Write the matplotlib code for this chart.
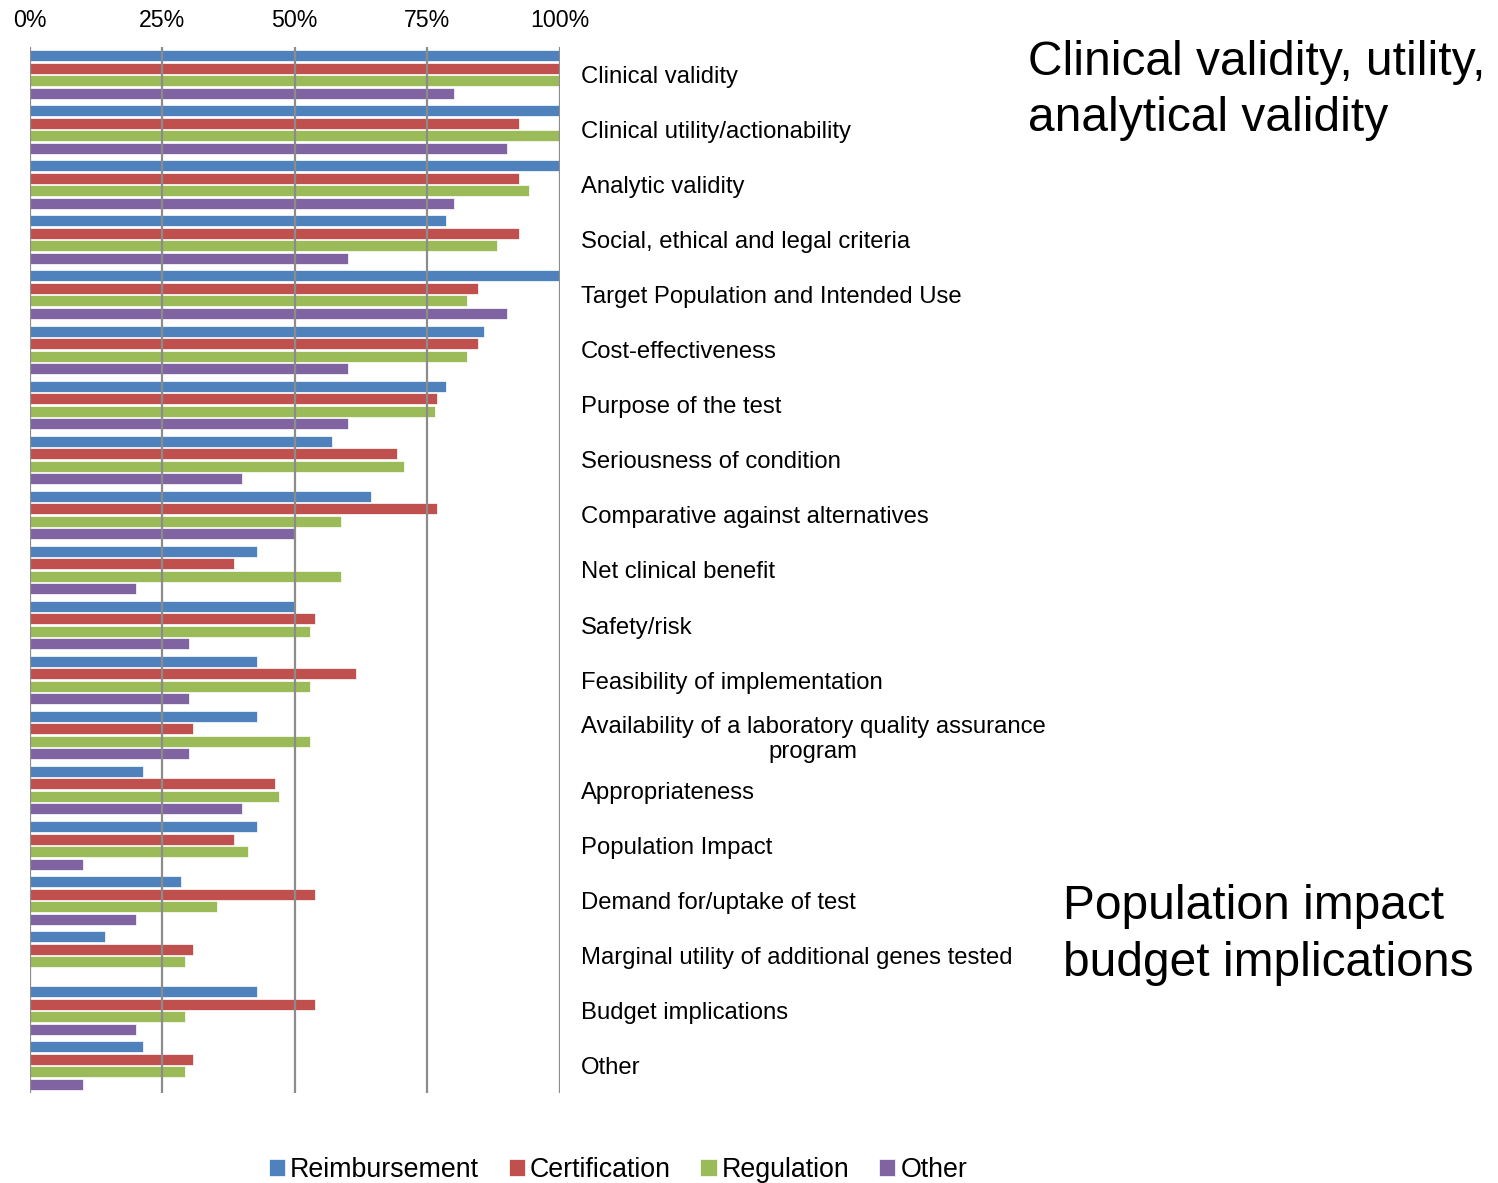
import matplotlib
matplotlib.use("Agg")
import matplotlib.pyplot as plt
import numpy as np

plt.rcParams['font.family'] = ['Liberation Sans', 'DejaVu Sans']

criteria = ["Clinical validity", "Clinical utility/actionability", "Analytic validity",
            "Social, ethical and legal criteria", "Target Population and Intended Use",
            "Cost-effectiveness", "Purpose of the test", "Seriousness of condition",
            "Comparative against alternatives", "Net clinical benefit", "Safety/risk",
            "Feasibility of implementation",
            "Availability of a laboratory quality assurance\nprogram",
            "Appropriateness", "Population Impact", "Demand for/uptake of test",
            "Marginal utility of additional genes tested", "Budget implications", "Other"]

# percent of respondents
reimbursement = [100, 100, 100, 78.6, 100, 85.7, 78.6, 57.1, 64.3, 42.9, 50.0,
                 42.9, 42.9, 21.4, 42.9, 28.6, 14.3, 42.9, 21.4]
certification = [100, 92.3, 92.3, 92.3, 84.6, 84.6, 76.9, 69.2, 76.9, 38.5, 53.8,
                 61.5, 30.8, 46.2, 38.5, 53.8, 30.8, 53.8, 30.8]
regulation = [100, 100, 94.1, 88.2, 82.4, 82.4, 76.5, 70.6, 58.8, 58.8, 52.9,
              52.9, 52.9, 47.1, 41.2, 35.3, 29.4, 29.4, 29.4]
other = [80, 90, 80, 60, 90, 60, 60, 40, 50, 20, 30,
         30, 30, 40, 10, 20, 0, 20, 10]

series = [("Reimbursement", reimbursement, "#4F81BD"),
          ("Certification", certification, "#C0504D"),
          ("Regulation", regulation, "#9BBB59"),
          ("Other", other, "#8064A2")]

fig = plt.figure(figsize=(14.98, 11.83), dpi=100)
ax = fig.add_axes([29.5 / 1498, 1 - 1093 / 1183, 530.5 / 1498, 1046 / 1183])

y = np.arange(len(criteria))
step = 0.227
for i, (name, vals, col) in enumerate(series):
    ax.barh(y + (i - 1.5) * step, vals, height=0.2, color=col,
            edgecolor="white", linewidth=0.5, label=name, zorder=2)

ax.set_xlim(0, 100)
ax.set_ylim(len(criteria) - 0.5, -0.5)
ax.set_xticks([0, 25, 50, 75, 100])
ax.set_xticklabels(["0%", "25%", "50%", "75%", "100%"], fontsize=16.7)
ax.xaxis.tick_top()
ax.tick_params(axis="x", length=0, pad=11)
for xv in [0, 25, 50, 75, 100]:
    ax.axvline(xv, color="#8c8c8c", linewidth=1.6, zorder=3)

ax.yaxis.tick_right()
ax.set_yticks(y)
ax.set_yticklabels(criteria, fontsize=17.2)
ax.tick_params(axis="y", length=0, pad=15)
for lab in ax.get_yticklabels():
    lab.set_multialignment("center")

for s in ax.spines.values():
    s.set_visible(False)

fig.text(1028 / 1498, 1 - 90.5 / 1183, "Clinical validity, utility,\nanalytical validity",
         fontsize=34.5, va="center", ha="left", linespacing=1.32)
fig.text(1063 / 1498, 1 - 935 / 1183, "Population impact\nbudget implications",
         fontsize=34.5, va="center", ha="left", linespacing=1.32)

fig.legend(loc="center", bbox_to_anchor=(618 / 1498, 1 - 1170 / 1183), ncol=4,
           frameon=False, fontsize=19.3, handlelength=0.6, handleheight=0.6,
           handletextpad=0.2, columnspacing=1.1)

fig.savefig("out.png", dpi=100)
